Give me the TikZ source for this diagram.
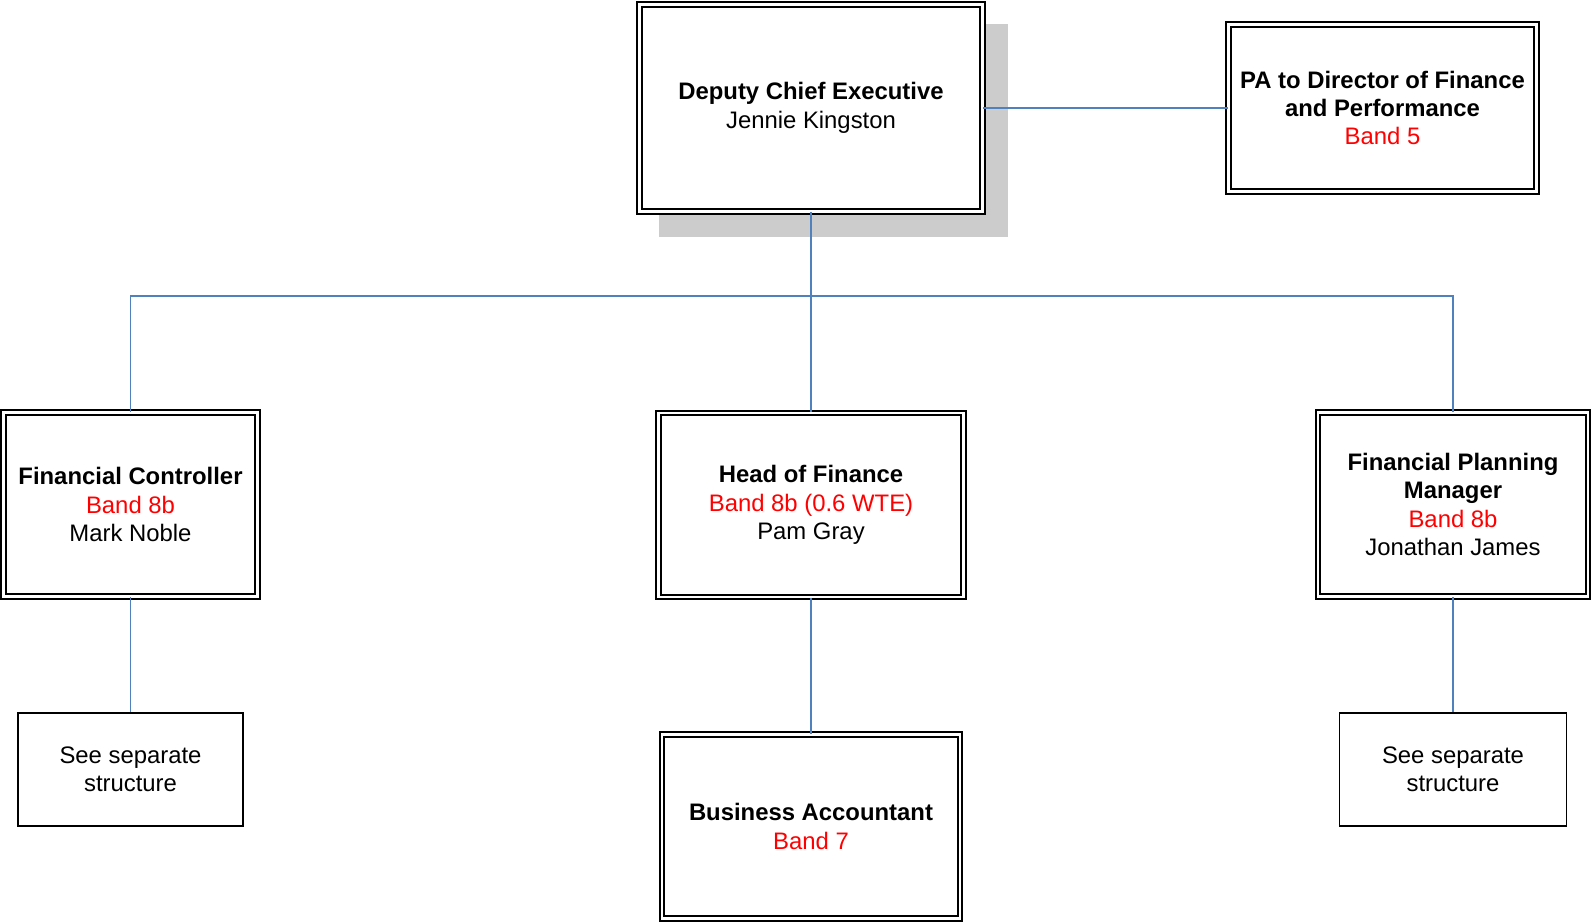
\documentclass[tikz,border=0pt]{standalone}
\usepackage{fontspec}
\setmainfont{Liberation Sans}
\definecolor{linkblue}{HTML}{4F81BD}
\definecolor{shadowgray}{HTML}{CCCCCC}
\definecolor{bandred}{HTML}{FF0000}
\begin{document}
\begin{tikzpicture}[x=0.75pt,y=-0.75pt,
  sz/.style 2 args={minimum width=#1*0.75pt, minimum height=#2*0.75pt},
  basebox/.style={inner sep=0pt, align=center, fill=white,
    font=\fontsize{17.9}{21.3}\selectfont},
  dblbox/.style={basebox, draw=black, line width=1.3pt, double=white, double distance=2.1pt},
  sglbox/.style={basebox, draw=black, line width=1.3pt},
  link/.style={draw=linkblue, line width=1.4pt},
  shadowbox/.style={fill=shadowgray, inner sep=0pt}]
\useasboundingbox (0,0) rectangle (1591,922);

\node[shadowbox, sz={349}{213}] (shadow) at (833.5,130.5) {};
\node[dblbox, sz={343}{207}] (dce) at (811,108) {\textbf{Deputy Chief Executive}\\Jennie Kingston};
\node[dblbox, sz={308}{167}] (pa) at (1382.5,108) {\textbf{PA to Director of Finance}\\\textbf{and Performance}\\\textcolor{bandred}{Band 5}};
\node[dblbox, sz={254}{184}] (fc) at (130.5,504.5) {\textbf{Financial Controller}\\\textcolor{bandred}{Band 8b}\\Mark Noble};
\node[dblbox, sz={305}{184}] (hof) at (811,505) {\textbf{Head of Finance}\\\textcolor{bandred}{Band 8b (0.6 WTE)}\\Pam Gray};
\node[dblbox, sz={270}{184}] (fpm) at (1453,504.5) {\textbf{Financial Planning}\\\textbf{Manager}\\\textcolor{bandred}{Band 8b}\\Jonathan James};
\node[dblbox, sz={298}{184}] (ba) at (811,826.5) {\textbf{Business Accountant}\\\textcolor{bandred}{Band 7}};
\node[sglbox, sz={225}{113}] (ssl) at (130.5,769.5) {See separate\\structure};
\node[sglbox, sz={227}{113}] (ssr) at (1453,769.5) {See separate\\structure};

\coordinate (bus) at (811,296);
\draw[link] (dce.east) -- (pa.west);
\draw[link] (dce.south) -- (hof.north);
\draw[link] (fc.north) |- (bus);
\draw[link] (fpm.north) |- (bus);
\draw[link] (fc.south) -- (ssl.north);
\draw[link] (hof.south) -- (ba.north);
\draw[link] (fpm.south) -- (ssr.north);
\end{tikzpicture}
\end{document}
